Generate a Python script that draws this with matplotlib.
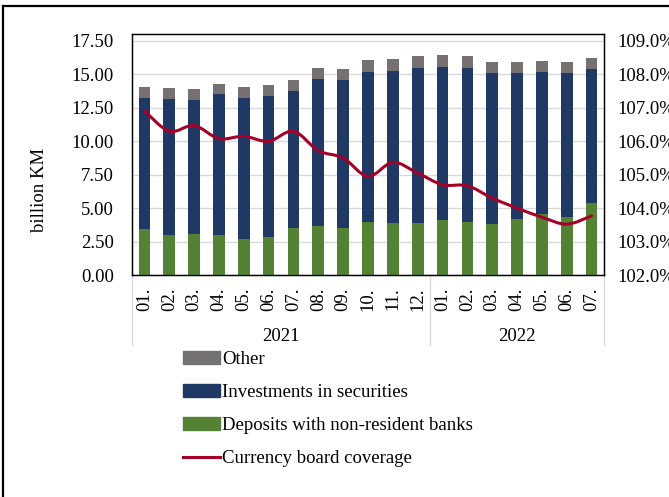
import matplotlib
matplotlib.use('Agg')
import matplotlib.pyplot as plt
from matplotlib.path import Path
from matplotlib.patches import PathPatch, Patch
from matplotlib.lines import Line2D
import matplotlib.transforms as mtransforms

plt.rcParams['font.family'] = ['Liberation Serif', 'DejaVu Serif']
plt.rcParams['font.size'] = 13.5

months = ['01.', '02.', '03.', '04.', '05.', '06.', '07.', '08.', '09.', '10.', '11.', '12.',
          '01.', '02.', '03.', '04.', '05.', '06.', '07.']
years = ['2021', '2022']
year_counts = [12, 7]

# billion KM
deposits = [3.44, 3.01, 3.09, 2.99, 2.66, 2.84, 3.51, 3.66, 3.51, 3.93, 3.91, 3.86,
            4.11, 3.93, 3.83, 4.16, 4.56, 4.36, 5.35]
investments = [9.80, 10.16, 10.03, 10.53, 10.58, 10.53, 10.26, 11.00, 11.08, 11.26, 11.37, 11.62,
               11.45, 11.55, 11.28, 10.95, 10.60, 10.73, 10.06]
other = [0.83, 0.80, 0.80, 0.79, 0.85, 0.82, 0.82, 0.85, 0.84, 0.87, 0.85, 0.88,
         0.92, 0.88, 0.85, 0.85, 0.82, 0.82, 0.85]
# percent
coverage = [106.91, 106.30, 106.47, 106.08, 106.15, 106.00, 106.30, 105.72, 105.50, 104.95,
            105.37, 105.05, 104.70, 104.67, 104.30, 104.00, 103.73, 103.52, 103.77]

c_other = '#767171'
c_inv = '#1f3864'
c_dep = '#548235'
c_line = '#a50028'

W, H = 669, 497
fig = plt.figure(figsize=(W / 100, H / 100), dpi=100)
ax = fig.add_axes([132 / W, 1 - 275 / H, 472 / W, 240.7 / H])
ax2 = ax.twinx()

x = list(range(len(months)))
bw = 0.47
ax.bar(x, deposits, bw, color=c_dep, zorder=3)
ax.bar(x, investments, bw, bottom=deposits, color=c_inv, zorder=3)
tops = [d + i for d, i in zip(deposits, investments)]
ax.bar(x, other, bw, bottom=tops, color=c_other, zorder=3)

ax.set_xlim(-0.5, len(months) - 0.5)
ax.set_ylim(0, 18.0)
ax.set_yticks([0, 2.5, 5, 7.5, 10, 12.5, 15, 17.5])
ax.set_yticklabels(['%.2f' % v for v in ax.get_yticks()])
ax.yaxis.grid(True, color='#d9d9d9', lw=1, zorder=0)
ax.set_axisbelow(True)
ax.tick_params(axis='y', length=0, pad=13)
ax.set_xticks(x)
ax.set_xticklabels(months, rotation=90, va='top')
ax.tick_params(axis='x', length=0, pad=9)

# smooth line on right axis (Catmull-Rom as Bezier segments)
ax2.set_ylim(102, 102 + 18.0 / 2.5)
ax2.set_yticks(range(102, 110))
ax2.set_yticklabels(['%.1f%%' % v for v in range(102, 110)])
ax2.tick_params(axis='y', length=0, pad=10)
verts = [(x[0], coverage[0])]
codes = [Path.MOVETO]
n = len(coverage)
for i in range(n - 1):
    p0 = (x[max(i - 1, 0)], coverage[max(i - 1, 0)])
    p1 = (x[i], coverage[i])
    p2 = (x[i + 1], coverage[i + 1])
    p3 = (x[min(i + 2, n - 1)], coverage[min(i + 2, n - 1)])
    c1 = (p1[0] + (p2[0] - p0[0]) / 6, p1[1] + (p2[1] - p0[1]) / 6)
    c2 = (p2[0] - (p3[0] - p1[0]) / 6, p2[1] - (p3[1] - p1[1]) / 6)
    verts += [c1, c2, p2]
    codes += [Path.CURVE4] * 3
ax2.add_patch(PathPatch(Path(verts, codes), fill=False, edgecolor=c_line, lw=2.2,
                        capstyle='round', joinstyle='round', zorder=5))

for a in (ax, ax2):
    for s in a.spines.values():
        s.set_color('black')
        s.set_linewidth(0.9)

# year grouping under the axis
trans = mtransforms.blended_transform_factory(ax.transData, ax.transAxes)
start = 0
for yr, cnt in zip(years, year_counts):
    ax.text(start - 0.5 + cnt / 2, -0.255, yr, transform=trans, ha='center', va='center')
    start += cnt
edges = [-0.5]
for cnt in year_counts:
    edges.append(edges[-1] + cnt)
for e in edges:
    ax.plot([e, e], [0, -0.29], transform=trans, color='#d9d9d9', lw=1, clip_on=False)

fig.text(40 / W, 1 - 190 / H, 'billion KM', rotation=90, ha='center', va='center')

handles = [Patch(color=c_other), Patch(color=c_inv), Patch(color=c_dep),
           Line2D([], [], color=c_line, lw=2.2)]
labels = ['Other', 'Investments in securities', 'Deposits with non-resident banks',
          'Currency board coverage']
fig.legend(handles, labels, loc='upper left', bbox_to_anchor=(183 / W, 1 - 351 / H),
           frameon=False, borderpad=0, borderaxespad=0, handlelength=1.95, handleheight=0.65,
           handletextpad=0.15, labelspacing=0.86)

# outer frame (left and top edges)
fig.add_artist(Line2D([3 / W, 3 / W], [0, 1 - 6 / H], color='black', lw=1.6))
fig.add_artist(Line2D([3 / W, 1], [1 - 6 / H, 1 - 6 / H], color='black', lw=1.6))

fig.savefig('out.png', dpi=100)
